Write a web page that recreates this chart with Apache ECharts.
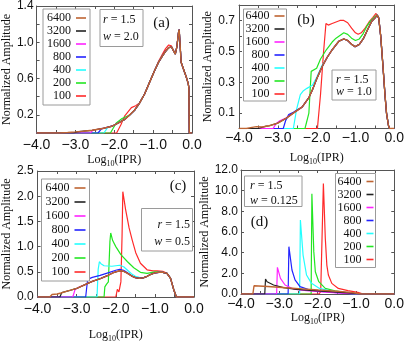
<!DOCTYPE html>
<html>
<head>
<meta charset="utf-8">
<script src="https://cdn.jsdelivr.net/npm/echarts@6/dist/echarts.min.js"></script>
<style>
  html, body { margin: 0; padding: 0; background: #fff; }
  #chart { width: 407px; height: 344px; }
</style>
</head>
<body>
<div id="chart"></div>
<script>
// system sizes (legend order) and colours
const sizes = ['6400', '3200', '1600', '800', '400', '200', '100'];
const colors = ['#be6432', '#222222', '#ff22ff', '#2222ff', '#22ffff', '#22e622', '#ff2a2a'];
const xTicks = [-4, -3, -2, -1, 0];

// ---- panel (a): w = 2.0 ----
// common curve (large sizes overlap on it)
const aMain = [[-2.06,0.075],[-1.9,0.11],[-1.73,0.15],[-1.6,0.2],[-1.48,0.25],[-1.35,0.33],[-1.22,0.43],[-1.1,0.55],
  [-0.97,0.68],[-0.86,0.78],[-0.76,0.85],[-0.68,0.9],[-0.6,0.94],[-0.53,0.95],[-0.48,0.91],[-0.43,0.87],[-0.39,0.95],
  [-0.35,1.1],[-0.33,1.14],[-0.31,1.0],[-0.28,0.78],[-0.24,0.73],[-0.2,0.68],[-0.15,0.62],[-0.1,0.55],[-0.08,0.5],[-0.07,0],[0,0]];
// start of each curve (6400 ... 100)
const aHeads = [
  [[-4,0],[-3.4,0],[-3.2,0.005],[-3.0,0.012],[-2.8,0.02],[-2.57,0.03],[-2.3,0.05]],
  [[-4,0],[-3.05,0],[-2.95,0.012],[-2.8,0.02],[-2.57,0.03],[-2.3,0.05]],
  [[-4,0],[-2.62,0],[-2.55,0.03],[-2.3,0.05]],
  [[-4,0],[-2.42,0],[-2.33,0.045]],
  [[-4,0],[-2.27,0],[-2.17,0.06]],
  [[-4,0],[-2.1,0],[-1.95,0.11],[-1.8,0.16],[-1.7,0.18],[-1.6,0.2]],
  [[-4,0],[-1.94,0],[-1.83,0.09],[-1.73,0.19],[-1.56,0.28],[-1.45,0.3],[-1.35,0.33],[-1.22,0.43],[-1.1,0.55],
   [-0.97,0.68],[-0.86,0.79],[-0.76,0.87],[-0.68,0.93],[-0.6,0.97],[-0.53,0.96]]
];

// ---- panel (b): w = 1.0 ----
const bMain = [[-3.81,0],[-3.7,0.006],[-3.55,0.012],[-3.4,0.01],[-3.22,0.018],[-3.0,0.035],[-2.79,0.065],[-2.6,0.1],
  [-2.37,0.14],[-2.2,0.2],[-2.11,0.25],[-2.0,0.32],[-1.86,0.4],[-1.73,0.46],[-1.6,0.51],[-1.43,0.565],[-1.3,0.58],
  [-1.2,0.57],[-1.1,0.545],[-1.01,0.53],[-0.9,0.545],[-0.8,0.58],[-0.67,0.65],[-0.58,0.695],[-0.5,0.715],[-0.44,0.735],
  [-0.4,0.715],[-0.35,0.6],[-0.29,0.4],[-0.24,0.22],[-0.2,0.1],[-0.15,0.02],[-0.12,0],[0,0]];
const bHeads = [
  [[-4,0],[-3.81,0]],
  [[-4,0],[-3.5,0],[-3.45,0.012],[-3.3,0.015],[-3.22,0.018]],
  [[-4,0],[-3.12,0],[-3.05,0.03],[-2.95,0.05],[-2.79,0.068]],
  [[-4,0],[-2.86,0],[-2.8,0.05],[-2.72,0.09],[-2.6,0.105]],
  [[-4,0],[-2.6,0],[-2.52,0.12],[-2.42,0.22],[-2.34,0.245],[-2.25,0.26],[-2.11,0.28],[-2.0,0.33],[-1.86,0.41]],
  [[-4,0],[-2.3,0],[-2.2,0.1],[-2.14,0.37],[-2.0,0.39],[-1.9,0.45],[-1.75,0.51],[-1.6,0.56],[-1.5,0.585],[-1.3,0.62],
   [-1.2,0.61],[-1.1,0.585],[-1.0,0.57],[-0.9,0.58],[-0.8,0.615],[-0.7,0.665],[-0.6,0.7],[-0.5,0.725]],
  [[-4,0],[-1.98,0],[-1.9,0.22],[-1.82,0.5],[-1.76,0.68],[-1.7,0.67],[-1.6,0.68],[-1.5,0.69],[-1.4,0.7],[-1.3,0.7],
   [-1.2,0.685],[-1.1,0.65],[-1.0,0.62],[-0.93,0.61],[-0.85,0.62],[-0.75,0.65],[-0.65,0.69],[-0.55,0.72],[-0.47,0.745]]
];

// ---- panel (c): w = 0.5 ----
const cMain = [[-3.69,0],[-3.63,0.05],[-3.5,0.06],[-3.4,0.08],[-3.22,0.12],[-3.0,0.17],[-2.8,0.24],[-2.6,0.31],
  [-2.38,0.37],[-2.2,0.43],[-2.04,0.49],[-1.9,0.52],[-1.8,0.51],[-1.7,0.47],[-1.6,0.42],[-1.5,0.385],[-1.4,0.37],
  [-1.3,0.38],[-1.2,0.41],[-1.1,0.45],[-1.0,0.48],[-0.9,0.49],[-0.8,0.49],[-0.69,0.47],[-0.6,0.37],[-0.52,0.15],[-0.45,0],[0,0]];
const cHeads = [
  [[-4,0],[-3.69,0]],
  [[-4,0],[-3.43,0],[-3.38,0.09],[-3.22,0.12]],
  [[-4,0],[-3.1,0],[-3.04,0.15],[-2.95,0.19],[-2.8,0.24]],
  [[-4,0],[-2.77,0],[-2.72,0.35],[-2.6,0.39],[-2.4,0.43],[-2.2,0.48],[-2.0,0.53],[-1.9,0.55],[-1.8,0.53],[-1.7,0.48]],
  [[-4,0],[-2.48,0],[-2.45,0.55],[-2.42,0.7],[-2.38,0.66],[-2.3,0.62],[-2.1,0.61],[-1.9,0.63],[-1.8,0.6],[-1.7,0.53],
   [-1.6,0.46],[-1.5,0.41],[-1.4,0.39]],
  [[-4,0],[-2.3,0],[-2.28,0.2],[-2.24,0.25],[-2.19,0.3],[-2.15,1.1],[-2.13,1.27],[-2.08,1.12],[-2.0,1.0],[-1.87,0.84],
   [-1.7,0.7],[-1.54,0.58],[-1.37,0.49],[-1.2,0.47],[-1.0,0.5],[-0.9,0.5]],
  [[-4,0],[-2.0,0],[-1.96,0.15],[-1.92,0.1],[-1.87,0.3],[-1.84,1.2],[-1.82,2.09],[-1.75,1.74],[-1.66,1.37],[-1.58,1.13],
   [-1.49,0.88],[-1.37,0.67],[-1.2,0.54],[-1.05,0.52],[-0.94,0.52],[-0.8,0.51]]
];

// ---- panel (d): w = 0.125 ----
const dCurves = [
  [[-4,0],[-3.69,0],[-3.66,0.8],[-3.3,0.72],[-2.84,0.61],[-2.4,0.5],[-1.98,0.39],[-1.5,0.27],[-1.13,0.16],[-0.87,0],[0,0]],
  [[-4,0],[-3.38,0],[-3.36,1.45],[-3.32,1.19],[-3.15,0.87],[-2.89,0.61],[-2.55,0.45],[-2.2,0.35],[-1.8,0.25],[-1.4,0.15],[-1.0,0.05],[-0.9,0],[0,0]],
  [[-4,0],[-3.07,0],[-3.05,2.58],[-2.97,1.51],[-2.85,0.87],[-2.63,0.48],[-2.29,0.32],[-1.9,0.2],[-1.5,0.1],[-1.1,0.03],[-1.0,0],[0,0]],
  [[-4,0],[-2.77,0],[-2.75,4.58],[-2.67,2.32],[-2.59,1.36],[-2.46,0.71],[-2.2,0.39],[-1.9,0.25],[-1.5,0.12],[-1.2,0.04],[-1.1,0],[0,0]],
  [[-4,0],[-2.47,0],[-2.45,7.16],[-2.38,3.77],[-2.29,1.84],[-2.16,1.03],[-1.95,0.54],[-1.7,0.32],[-1.5,0.2],[-1.2,0.06],[-1.1,0],[0,0]],
  [[-4,0],[-2.17,0],[-2.15,9.7],[-2.1,4.1],[-2.06,2.16],[-1.97,1.19],[-1.8,0.55],[-1.55,0.3],[-1.2,0.12],[-1.0,0.03],[-0.95,0],[0,0]],
  [[-4,0],[-1.97,0],[-1.92,0.2],[-1.87,0.3],[-1.85,10.7],[-1.8,5.4],[-1.76,2.8],[-1.72,1.84],[-1.63,1.03],[-1.46,0.54],
   [-1.21,0.32],[-0.95,0.16],[-0.85,0.05],[-0.8,0],[0,0]]
];

// a curve = its own start, then the common curve from where the start ends
function join(head, tail) {
  const last = head[head.length - 1][0];
  return head.concat(tail.filter(p => p[0] > last));
}
const curves = [
  aHeads.map(h => join(h, aMain)),
  bHeads.map(h => join(h, bMain)),
  cHeads.map(h => join(h, cMain)),
  dCurves
];

const serif = '"Liberation Serif", "DejaVu Serif", serif';
const sans = '"Liberation Sans", Arial, sans-serif';
const frame = '#555';

const panels = [
  { grid: { left: 33, top: 5, width: 159, height: 128 }, yMax: 1.4, yInt: 0.2,
    yFmt: v => (Math.round(v * 10) % 4 === 2 ? v.toFixed(1) : ''), xMargin: 5, yMargin: 3, xGap: 19, yGap: 21,
    legend: { left: 43, top: 9, padding: [3, 4], itemGap: 1, itemWidth: 10 },
    box: [100, 9.5, 43, 37], boxText: [[103, 20, 'r', '1.5'], [103, 36.5, 'w', '2.0']], boxAlign: 'left',
    tag: ['(a)', 161.5, 23] },
  { grid: { left: 239, top: 5, width: 157, height: 123.5 }, yMax: 0.8, yInt: 0.1,
    yFmt: v => (Math.round(v * 10) % 2 === 1 ? v.toFixed(1) : ''), xMargin: 3, yMargin: 4, xGap: 21, yGap: 25,
    legend: { left: 243.5, top: 9, padding: [1, 2], itemGap: 1, itemWidth: 10 },
    box: [332, 70, 44, 30], boxText: [[336, 80, 'r', '1.5'], [336, 91.5, 'w', '1.0']], boxAlign: 'left',
    tag: ['(b)', 306, 20.5] },
  { grid: { left: 36, top: 171, width: 158, height: 136 }, yMax: 2.5, yInt: 0.5,
    yFmt: v => v.toFixed(1), xMargin: 5, yMargin: 4, xGap: 30, yGap: 24,
    legend: { left: 41.5, top: 179, padding: [3, 4], itemGap: 2, itemWidth: 11 },
    box: [141.5, 208.5, 51, 42.5], boxText: [[190, 225, 'r', '1.5'], [190, 242, 'w', '0.5']], boxAlign: 'right',
    tag: ['(c)', 178, 186] },
  { grid: { left: 241, top: 170, width: 156, height: 124 }, yMax: 12, yInt: 2,
    yFmt: v => v.toFixed(1), xMargin: 3, yMargin: 3, xGap: 14, yGap: 25,
    legend: { left: 335.5, top: 173.5, padding: [2, 2], itemGap: 1, itemWidth: 7 },
    box: [244.5, 176, 57.5, 30.5], boxText: [[250, 185.5, 'r', '1.5'], [250, 200.5, 'w', '0.125']], boxAlign: 'left',
    tag: ['(d)', 259.5, 222.5] }
];

const xFmt = v => (v < 0 ? '\u2212' : '') + Math.abs(v).toFixed(1);
const tickStyle = { inside: true, length: 3, lineStyle: { color: frame, width: 1 } };

const grid = [], xAxis = [], yAxis = [], series = [], legend = [], graphic = [];
panels.forEach((p, i) => {
  grid.push(Object.assign({ containLabel: false }, p.grid));
  const xBase = {
    type: 'value', gridIndex: i, min: xTicks[0], max: xTicks[xTicks.length - 1], interval: 1,
    axisLine: { show: true, onZero: false, lineStyle: { color: frame, width: 1 } },
    axisTick: tickStyle, minorTick: { show: true, splitNumber: 2, length: 3, lineStyle: { color: frame } },
    splitLine: { show: false }, minorSplitLine: { show: false }
  };
  xAxis.push(Object.assign({}, xBase, {
    position: 'bottom',
    axisLabel: { formatter: xFmt, fontFamily: sans, fontSize: 14, color: '#111', margin: p.xMargin },
    name: '{t|Log}{s|10}{t|(IPR)}', nameLocation: 'middle', nameGap: p.xGap,
    nameTextStyle: { fontFamily: serif, fontSize: 12, color: '#111',
      rich: { t: { fontFamily: serif, fontSize: 12, color: '#111' }, s: { fontFamily: serif, fontSize: 8, color: '#111', padding: [8, 0, 0, 0] } } }
  }));
  xAxis.push(Object.assign({}, xBase, { position: 'top', axisLabel: { show: false } }));
  const yBase = {
    type: 'value', gridIndex: i, min: 0, max: p.yMax, interval: p.yInt,
    axisLine: { show: true, onZero: false, lineStyle: { color: frame, width: 1 } },
    axisTick: tickStyle, splitLine: { show: false }
  };
  yAxis.push(Object.assign({}, yBase, {
    position: 'left',
    axisLabel: { formatter: p.yFmt, fontFamily: sans, fontSize: 12, color: '#111', margin: p.yMargin, showMinLabel: true, showMaxLabel: true },
    name: 'Normalized Amplitude', nameLocation: 'middle', nameRotate: 90, nameGap: p.yGap,
    nameTextStyle: { fontFamily: serif, fontSize: 12, color: '#111' }
  }));
  yAxis.push(Object.assign({}, yBase, { position: 'right', axisLabel: { show: false } }));

  // 100 drawn first, 6400 last (on top)
  for (let k = sizes.length - 1; k >= 0; k--) {
    series.push({
      name: sizes[k], type: 'line', xAxisIndex: 2 * i, yAxisIndex: 2 * i,
      data: curves[i][k], symbol: 'none', showSymbol: false, animation: false,
      lineStyle: { width: k === 0 ? 1.4 : 1.2, color: colors[k] }, itemStyle: { color: colors[k] }
    });
  }

  legend.push(Object.assign({
    orient: 'vertical', align: 'right', data: sizes, icon: 'rect', itemHeight: 1.6,
    borderColor: '#9a9a9a', borderWidth: 1, backgroundColor: '#fff', selectedMode: false,
    textStyle: { fontFamily: serif, fontSize: 12, lineHeight: 12, color: '#111' }
  }, p.legend));

  const [bx, by, bw, bh] = p.box;
  graphic.push({ type: 'rect', shape: { x: bx, y: by, width: bw, height: bh }, z: 10,
    style: { fill: '#fff', stroke: '#9a9a9a', lineWidth: 1 } });
  p.boxText.forEach(([tx, ty, sym, val]) => {
    graphic.push({ type: 'text', x: tx, y: ty, z: 11,
      style: { text: '{i|' + sym + '} = ' + val, fontFamily: serif, fontSize: 12, fill: '#111',
        align: p.boxAlign, verticalAlign: 'middle',
        rich: { i: { fontFamily: serif, fontSize: 12, fontStyle: 'italic', fill: '#111' } } } });
  });
  graphic.push({ type: 'text', x: p.tag[1], y: p.tag[2], z: 11,
    style: { text: p.tag[0], fontFamily: serif, fontSize: 15, fill: '#111', align: 'center', verticalAlign: 'middle' } });
});

const chart = echarts.init(document.getElementById('chart'), null, { renderer: 'canvas' });
chart.setOption({
  animation: false,
  backgroundColor: '#fff',
  grid, xAxis, yAxis, series, legend, graphic
});
</script>
</body>
</html>
